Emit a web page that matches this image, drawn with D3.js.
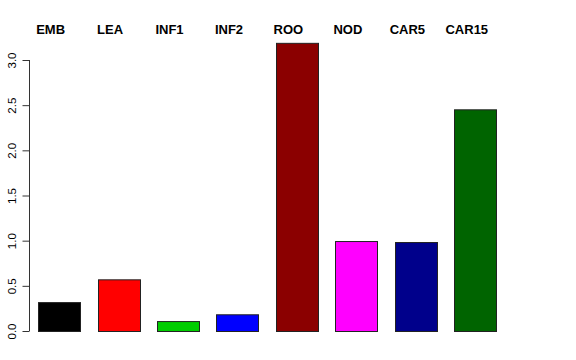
<!DOCTYPE html>
<html>
<head>
<meta charset="utf-8">
<script src="https://cdn.jsdelivr.net/npm/d3@7"></script>
<style>
  body { margin: 0; background: #fff; }
  text { font-family: "Liberation Sans", Arial, Helvetica, sans-serif; }
</style>
</head>
<body>
<svg id="chart" width="576" height="360"></svg>
<script>
// tissue labels and their values
const tissues = ["EMB", "LEA", "INF1", "INF2", "ROO", "NOD", "CAR5", "CAR15"];
const values = [0.32, 0.572, 0.11, 0.185, 3.19, 0.996, 0.985, 2.454];
const colors = ["#000000", "#ff0000", "#00cd00", "#0000ff", "#8b0000", "#ff00ff", "#00008b", "#006400"];
const yTicks = [0, 0.5, 1, 1.5, 2, 2.5, 3];

const width = 576, height = 360;

const svg = d3.select("#chart");

// bar band: step ~59.5px, bars ~42px wide
const x = d3.scaleBand()
    .domain(tissues)
    .range([29.2, 505.2])
    .paddingInner(0.294)
    .paddingOuter(0.15);

const y = d3.scaleLinear()
    .domain([0, 3])
    .range([331, 60]);

// bars
svg.append("g")
    .selectAll("rect")
    .data(tissues)
    .join("rect")
    .attr("x", d => Math.round(x(d)) + 0.5)
    .attr("y", (d, i) => y(values[i]) + 0.5)
    .attr("width", Math.round(x.bandwidth()))
    .attr("height", (d, i) => y(0) - y(values[i]))
    .attr("fill", (d, i) => colors[i])
    .attr("stroke", "#222")
    .attr("stroke-width", 1);

// labels on top
svg.append("g")
    .selectAll("text")
    .data(tissues)
    .join("text")
    .attr("x", d => x(d) + x.bandwidth() / 2 - 8.5)
    .attr("y", 34)
    .attr("text-anchor", "middle")
    .attr("font-weight", "bold")
    .attr("font-size", "13px")
    .text(d => d);

// y axis, R style
const yAxis = d3.axisLeft(y)
    .tickValues(yTicks)
    .tickFormat(d3.format(".1f"))
    .tickSize(7)
    .tickPadding(0);

const gy = svg.append("g")
    .attr("transform", "translate(29.5,0)")
    .call(yAxis);

gy.select(".domain")
    .attr("d", `M0,${y(0)}V${y(3)}`)
    .attr("stroke", "#333");
gy.selectAll(".tick line").attr("stroke", "#333");
gy.selectAll(".tick text")
    .attr("font-size", "11.5px")
    .attr("font-family", "Liberation Sans, Arial, sans-serif")
    .attr("fill", "#000")
    .attr("text-anchor", "middle")
    .attr("transform", "translate(-17.5,0) rotate(-90)")
    .attr("x", 0)
    .attr("dy", "0.35em");
</script>
</body>
</html>
